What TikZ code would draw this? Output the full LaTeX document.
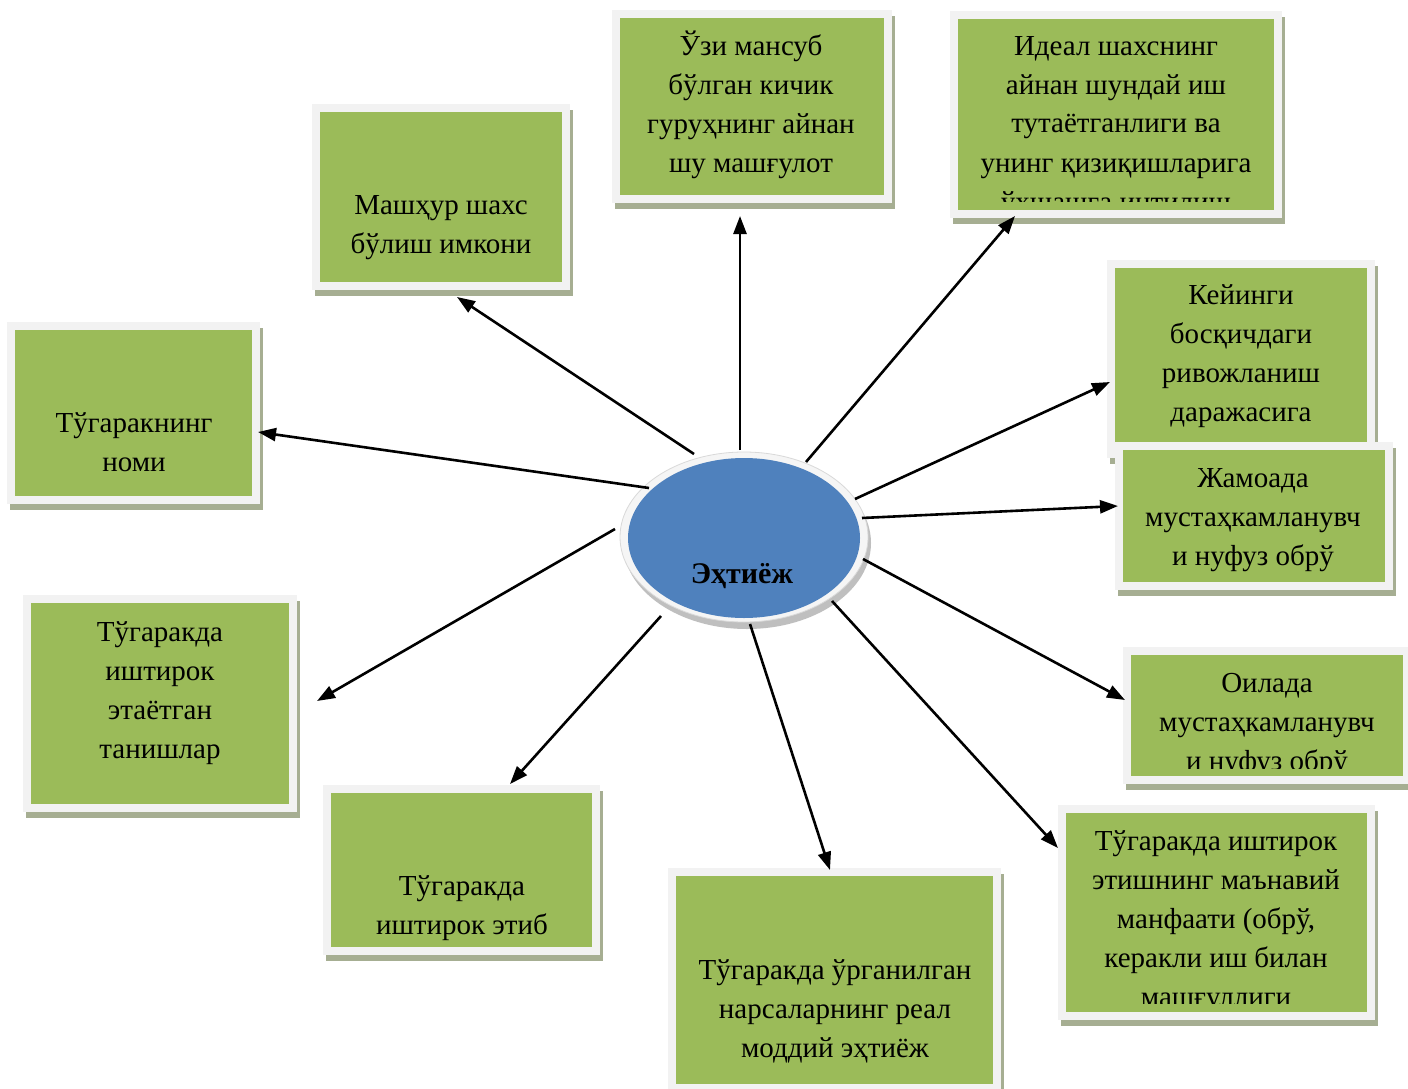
\documentclass[tikz,border=0pt]{standalone}
\usepackage{fontspec}
\setmainfont{Liberation Serif}
\usetikzlibrary{arrows.meta,shapes.geometric}
\definecolor{boxgreen}{HTML}{9BBB59}
\definecolor{framec}{HTML}{F2F2F2}
\definecolor{shadowc}{RGB}{166,174,146}
\definecolor{ellblue}{HTML}{4F81BD}
\tikzset{
  boxtext/.style={font=\fontsize{29}{39}\selectfont, align=center, inner sep=0pt, anchor=base},
  greenbox/.style={fill=boxgreen, draw=none, inner sep=0pt},
  conn/.style={line width=2.6pt, -{Triangle[length=18pt,width=13pt]}}
}
% #1 name, #2 x1, #3 y1, #4 x2, #5 y2 (outer frame)
\newcommand\mybox[5]{%
  \fill[shadowc] (#2+3,#3+6) rectangle (#4+3,#5+6);
  \fill[framec] (#2,#3) rectangle (#4,#5);
  \node[greenbox, minimum width=#4-#2-16, minimum height=#5-#3-16] (#1) at ({(#2+#4)/2},{(#3+#5)/2}) {};
}
\begin{document}
\begin{tikzpicture}[x=1pt,y=-1pt]
\useasboundingbox (0,0) rectangle (1408,1089);
\fill[white] (0,0) rectangle (1408,1089);

% boxes (text anchor = baseline of the last line)
\mybox{bA}{312}{104}{570}{290}
\node[boxtext] (tA) at (441,253) {Машҳур шахс\\бўлиш имкони};

\mybox{bB}{612}{10}{892}{203}
\node[boxtext] (tB) at (751,172) {Ўзи мансуб\\бўлган кичик\\гуруҳнинг айнан\\шу машғулот};

\mybox{bC}{950}{11}{1282}{218}
\begin{scope}
  \clip (958,19) rectangle (1274,201);
  \node[boxtext] (tC) at (1116,211) {Идеал шахснинг\\айнан шундай иш\\тутаётганлиги ва\\унинг қизиқишларига\\ўхшашга интилиш};
\end{scope}

\mybox{bD}{7}{322}{260}{504}
\node[boxtext] (tD) at (134,471) {Тўгаракнинг\\номи};

\mybox{bE}{1107}{260}{1375}{458}
\node[boxtext] (tE) at (1241,421) {Кейинги\\босқичдаги\\ривожланиш\\даражасига};

\mybox{bF}{1115}{442}{1393}{590}
\node[boxtext] (tF) at (1253,565) {Жамоада\\мустаҳкамланувч\\и нуфуз обрў};

\mybox{bG}{1123}{647}{1411}{784}
\begin{scope}
  \clip (1131,655) rectangle (1403,768);
  \node[boxtext] (tG) at (1267,770) {Оилада\\мустаҳкамланувч\\и нуфуз обрў};
\end{scope}

\mybox{bH}{1058}{805}{1375}{1020}
\begin{scope}
  \clip (1066,813) rectangle (1367,1003);
  \node[boxtext] (tH) at (1216,1006) {Тўгаракда иштирок\\этишнинг маънавий\\манфаати (обрў,\\керакли иш билан\\машғуллиги};
\end{scope}

\mybox{bI}{668}{868}{1001}{1092}
\node[boxtext] (tI) at (835,1057) {Тўгаракда ўрганилган\\нарсаларнинг реал\\моддий эҳтиёж};

\mybox{bJ}{323}{785}{600}{955}
\node[boxtext] (tJ) at (462,934) {Тўгаракда\\иштирок этиб};

\mybox{bK}{23}{595}{297}{812}
\node[boxtext] (tK) at (160,758) {Тўгаракда\\иштирок\\этаётган\\танишлар};

% central ellipse
\fill[gray!50] (747,543) ellipse [x radius=124, y radius=86];
\fill[gray!8, draw=gray!30, line width=0.8pt] (744,537) ellipse [x radius=124, y radius=85];
\node[ellipse, fill=ellblue, minimum width=232, minimum height=160, inner sep=0pt] (need) at (744,538) {};
\node[font=\bfseries\fontsize{30}{36}\selectfont, inner sep=0pt, anchor=base] (needtext) at (742,583) {Эҳтиёж};

% connector endpoints
\coordinate (s1) at (694,454);  \coordinate (t1) at (457,297);
\coordinate (s2) at (740,450);  \coordinate (t2) at (740,216);
\coordinate (s3) at (806,462);  \coordinate (t3) at (1015,216);
\coordinate (s4) at (649,488);  \coordinate (t4) at (258,432);
\coordinate (s5) at (855,499);  \coordinate (t5) at (1110,382);
\coordinate (s6) at (862,518);  \coordinate (t6) at (1118,506);
\coordinate (s7) at (863,559);  \coordinate (t7) at (1125,700);
\coordinate (s8) at (832,601);  \coordinate (t8) at (1058,848);
\coordinate (s9) at (750,624);  \coordinate (t9) at (830,870);
\coordinate (s10) at (661,616); \coordinate (t10) at (510,784);
\coordinate (s11) at (615,529); \coordinate (t11) at (317,701);

\foreach \i in {1,...,11} \draw[conn] (s\i) -- (t\i);
\end{tikzpicture}
\end{document}
